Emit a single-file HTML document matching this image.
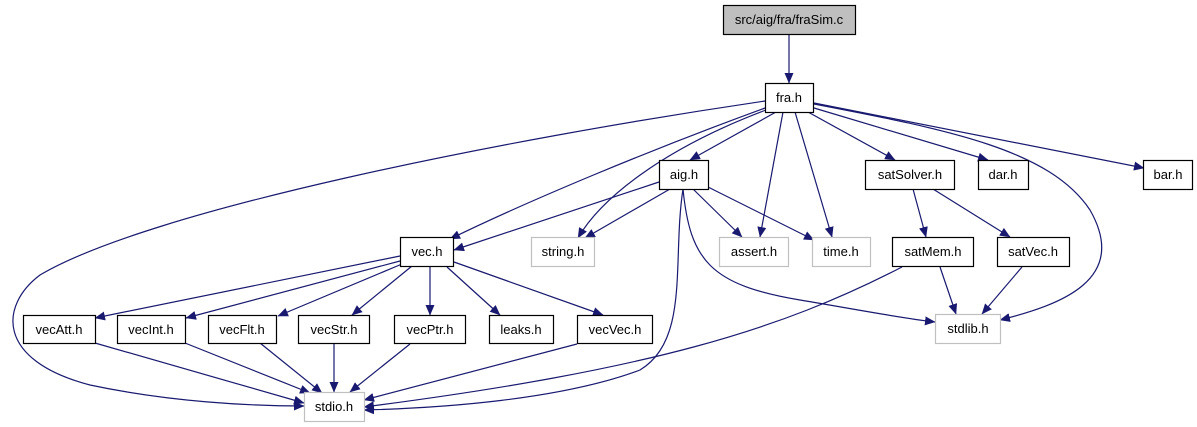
<!DOCTYPE html>
<html><head><meta charset="utf-8"><style>
html,body{margin:0;padding:0;background:#fff;}
svg{display:block;}
text{font-family:"Liberation Sans",Helvetica,Arial,sans-serif;font-size:13px;fill:#000;}
</style></head><body>
<svg width="1197" height="427" viewBox="0 0 1197 427" xmlns="http://www.w3.org/2000/svg">
<defs>
<marker id="a" markerWidth="11" markerHeight="9" refX="10" refY="4.5" orient="auto" markerUnits="userSpaceOnUse">
<path d="M0,0 L10.5,4.5 L0,9 Z" fill="#191970"/>
</marker>
</defs>
<g fill="none" stroke="#191970" stroke-width="1.2" marker-end="url(#a)">
<path d="M789,34 L789,83"/>
<path d="M765,108 C 650,150 530,200 450,239"/>
<path d="M776,112 L690,160"/>
<path d="M766,110 C 660,150 600,200 578,238"/>
<path d="M783,112 L760,237"/>
<path d="M795,112 L832,237"/>
<path d="M808,112 L895,160"/>
<path d="M814,108 L988,160"/>
<path d="M814,103 L1144,168"/>
<path d="M814,104 C 950,130 1050,150 1090,210 C 1130,280 1060,305 1000,320"/>
<path d="M765,101 C 500,140 150,210 40,275 C 0,305 -5,360 90,385 C 170,402 250,406 304,406"/>
<path d="M659,182 L454,250"/>
<path d="M670,189 L585,238"/>
<path d="M693,189 L742,237"/>
<path d="M708,187 L814,240"/>
<path d="M683,189 C 690,260 710,285 800,300 C 860,310 900,318 935,322"/>
<path d="M683,189 C 672,260 690,340 640,370 C 560,400 440,408 364,410"/>
<path d="M913,189 L926,237"/>
<path d="M933,189 L1010,237"/>
<path d="M940,267 L956,314"/>
<path d="M1022,267 L982,314"/>
<path d="M902,267 C 780,330 650,370 364,407"/>
<path d="M400,256 L95,318"/>
<path d="M400,261 L186,318"/>
<path d="M402,264 L278,316"/>
<path d="M412,266 L352,315"/>
<path d="M430,267 L430,315"/>
<path d="M447,267 L500,315"/>
<path d="M454,262 L603,315"/>
<path d="M95,343 L304,403"/>
<path d="M185,343 L310,393"/>
<path d="M260,343 L322,393"/>
<path d="M334,344 L334,392"/>
<path d="M410,344 L350,392"/>
<path d="M577,344 L364,400"/>
</g>
<g stroke-width="1.2">
<rect x="723.5" y="5.5" width="132" height="29" fill="#bfbfbf" stroke="#000"/>
<rect x="765.5" y="83.5" width="48" height="29" fill="#fff" stroke="#000"/>
<rect x="659.5" y="160.5" width="49" height="29" fill="#fff" stroke="#000"/>
<rect x="865.5" y="160.5" width="89" height="29" fill="#fff" stroke="#000"/>
<rect x="978.5" y="160.5" width="50" height="29" fill="#fff" stroke="#000"/>
<rect x="1143.5" y="160.5" width="49" height="29" fill="#fff" stroke="#000"/>
<rect x="400.5" y="237.5" width="53" height="29" fill="#fff" stroke="#000"/>
<rect x="531.5" y="237.5" width="63" height="29" fill="#fff" stroke="#c0c0c0"/>
<rect x="719.5" y="237.5" width="69" height="29" fill="#fff" stroke="#c0c0c0"/>
<rect x="812.5" y="237.5" width="58" height="29" fill="#fff" stroke="#c0c0c0"/>
<rect x="892.5" y="237.5" width="81" height="29" fill="#fff" stroke="#000"/>
<rect x="997.5" y="237.5" width="72" height="29" fill="#fff" stroke="#000"/>
<rect x="23.5" y="315.5" width="72" height="28" fill="#fff" stroke="#000"/>
<rect x="117.5" y="315.5" width="68" height="28" fill="#fff" stroke="#000"/>
<rect x="208.5" y="315.5" width="68" height="28" fill="#fff" stroke="#000"/>
<rect x="298.5" y="315.5" width="71" height="28" fill="#fff" stroke="#000"/>
<rect x="394.5" y="315.5" width="71" height="28" fill="#fff" stroke="#000"/>
<rect x="489.5" y="315.5" width="64" height="28" fill="#fff" stroke="#000"/>
<rect x="577.5" y="315.5" width="75" height="28" fill="#fff" stroke="#000"/>
<rect x="935.5" y="314.5" width="65" height="29" fill="#fff" stroke="#c0c0c0"/>
<rect x="304.5" y="392.5" width="60" height="29" fill="#fff" stroke="#c0c0c0"/>
</g>
<g text-anchor="middle">
<text x="789" y="24">src/aig/fra/fraSim.c</text>
<text x="789" y="102">fra.h</text>
<text x="684" y="179">aig.h</text>
<text x="910" y="179">satSolver.h</text>
<text x="1003" y="179">dar.h</text>
<text x="1168" y="179">bar.h</text>
<text x="427" y="256">vec.h</text>
<text x="563" y="256">string.h</text>
<text x="754" y="256">assert.h</text>
<text x="841" y="256">time.h</text>
<text x="933" y="256">satMem.h</text>
<text x="1033" y="256">satVec.h</text>
<text x="59" y="334">vecAtt.h</text>
<text x="151" y="334">vecInt.h</text>
<text x="242" y="334">vecFlt.h</text>
<text x="334" y="334">vecStr.h</text>
<text x="430" y="334">vecPtr.h</text>
<text x="521" y="334">leaks.h</text>
<text x="615" y="334">vecVec.h</text>
<text x="968" y="333">stdlib.h</text>
<text x="334" y="411">stdio.h</text>
</g>
</svg>
</body></html>
